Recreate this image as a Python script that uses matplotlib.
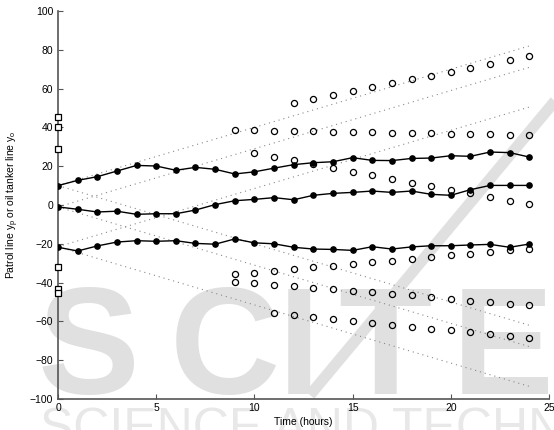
import numpy as np
import matplotlib
matplotlib.use('Agg')
import matplotlib.pyplot as plt

plt.rcParams['font.family'] = ['Liberation Sans', 'DejaVu Sans']
plt.rcParams['mathtext.fontset'] = 'custom'
plt.rcParams['mathtext.rm'] = 'Liberation Sans'

# patrol positions, one sample per hour
hours = [0, 1, 2, 3, 4, 5, 6, 7, 8, 9, 10, 11, 12, 13, 14, 15, 16, 17, 18, 19, 20, 21, 22, 23, 24]
patrol1 = [10.0, 12.7, 14.6, 17.5, 20.4, 20.1, 17.9, 19.4, 18.4, 16.0, 17.1, 19.0, 20.8,
           21.8, 22.3, 24.4, 23.0, 22.9, 24.0, 24.2, 25.4, 25.1, 27.3, 27.0, 24.7]
patrol2 = [-1.0, -2.2, -3.6, -3.2, -4.8, -4.5, -4.5, -2.6, 0.2, 2.2, 2.9, 3.8, 2.7,
           5.0, 6.0, 6.5, 7.2, 6.5, 7.2, 5.5, 5.0, 7.9, 10.1, 10.1, 10.1]
patrol3 = [-21.8, -23.7, -21.1, -19.1, -18.4, -18.7, -18.4, -19.8, -20.2, -17.5, -19.5, -20.0, -21.8,
           -22.7, -22.9, -23.4, -21.5, -22.7, -21.6, -21.0, -21.0, -20.6, -20.3, -21.8, -20.1]

# oil tanker tracks (open circles)
tankA_t = [12, 13, 14, 15, 16, 17, 18, 19, 20, 21, 22, 23, 24]
tankA_y = [52.7, 54.6, 56.7, 58.9, 60.8, 62.7, 64.8, 66.7, 68.7, 70.8, 72.8, 74.7, 76.6]
tankB_t = [9, 10, 11, 12, 13, 14, 15, 16, 17, 18, 19, 20, 21, 22, 23, 24]
tankB_y = [38.7, 38.7, 38.3, 38.3, 38.0, 37.8, 37.8, 37.5, 37.3, 37.1, 37.0, 36.8, 36.6, 36.4, 36.3, 36.1]
tankC_t = [10, 11, 12, 13, 14, 15, 16, 17, 18, 19, 20, 21, 22, 23, 24]
tankC_y = [26.8, 24.9, 23.0, 21.1, 19.2, 17.2, 15.5, 13.4, 11.5, 9.8, 7.9, 6.0, 4.0, 2.2, 0.4]
tankD_t = [9, 10, 11, 12, 13, 14, 15, 16, 17, 18, 19, 20, 21, 22, 23, 24]
tankD_y = [-35.7, -34.9, -34.0, -33.2, -32.1, -31.3, -30.4, -29.6, -28.7, -27.7, -26.6, -25.9,
           -25.0, -24.2, -23.4, -22.5]
tankE_t = [9, 10, 11, 12, 13, 14, 15, 16, 17, 18, 19, 20, 21, 22, 23, 24]
tankE_y = [-39.5, -40.4, -41.1, -41.8, -42.6, -43.5, -44.3, -45.1, -45.9, -46.6, -47.4, -48.5,
           -49.3, -50.2, -50.9, -51.5]
tankF_t = [11, 12, 13, 14, 15, 16, 17, 18, 19, 20, 21, 22, 23, 24]
tankF_y = [-55.8, -56.9, -57.9, -58.9, -59.8, -60.7, -61.7, -62.9, -63.8, -64.6, -65.5, -66.5,
           -67.5, -68.6]

# initial tanker positions at t=0
start_y = [45.5, 40.2, 28.9, -32.1, -43.3, -45.2]

# reachable cone of each patrol
cone_t = [0, 24]
cone_start = [10.0, -1.0, -21.5]
cone_upper = [82.0, 71.0, 50.5]
cone_lower = [-62.0, -73.0, -93.5]

fig = plt.figure(figsize=(5.54, 4.30), dpi=100)
ax = fig.add_axes([0.1047, 0.0721, 0.8863, 0.9023])
ax.patch.set_alpha(0)

# publisher watermark behind the data
wm = '#e0e0e0'
for ch, xp in zip('SCITE', [38, 170, 278, 338, 452]):
    ax.text(xp/554, 0.083, ch, transform=fig.transFigure, fontsize=110, fontweight='bold',
            color=wm, ha='left', va='baseline', zorder=0, clip_on=False)
ax.plot([560/554, 310/554], [1-95/430, 1-395/430], transform=fig.transFigure,
        color=wm, lw=8, solid_capstyle='butt', zorder=0, clip_on=False)
ax.text(40/554, -0.03, 'SCIENCE AND TECHNOLOGY', transform=fig.transFigure, fontsize=36,
        color='#e8e8e8', ha='left', va='baseline', zorder=0, clip_on=False)

for s, up, lo in zip(cone_start, cone_upper, cone_lower):
    ax.plot(cone_t, [s, up], color='#8a8a8a', lw=0.8, ls=(0, (1, 3.5)), zorder=1)
    ax.plot(cone_t, [s, lo], color='#8a8a8a', lw=0.8, ls=(0, (1, 3.5)), zorder=1)

for p in [patrol1, patrol2, patrol3]:
    ax.plot(hours, p, '-o', color='black', lw=1.0, ms=3.8, mfc='black', zorder=3)

for t, y in [(tankA_t, tankA_y), (tankB_t, tankB_y), (tankC_t, tankC_y),
             (tankD_t, tankD_y), (tankE_t, tankE_y), (tankF_t, tankF_y)]:
    ax.plot(t, y, 'o', mfc='none', mec='black', ms=4.4, mew=0.9, zorder=3)

ax.plot([0]*len(start_y), start_y, 's', mfc='white', mec='black', ms=4.2, mew=0.9,
        zorder=4, clip_on=False)

ax.set_xlim(0, 25)
ax.set_ylim(-100, 100)
ax.set_xticks([0, 5, 10, 15, 20, 25])
ax.set_yticks(np.arange(-100, 101, 20))
for side in ['top', 'right']:
    ax.spines[side].set_visible(False)
for side in ['left', 'bottom']:
    ax.spines[side].set_color('#555555')
    ax.spines[side].set_linewidth(1.2)
ax.tick_params(direction='in', length=3.5, width=0.8, color='#555555', labelsize=7.5,
               labelcolor='black')
ax.tick_params(axis='x', pad=3)

ax.set_xlabel('Time (hours)', fontsize=7.5, labelpad=3)
ax.set_ylabel(r'Patrol line y$_\mathrm{p}$ or oil tanker line y$_\mathrm{o}$', fontsize=7.5)
ax.yaxis.set_label_coords(-0.075, 0.5)

fig.savefig('out.png', dpi=100)
